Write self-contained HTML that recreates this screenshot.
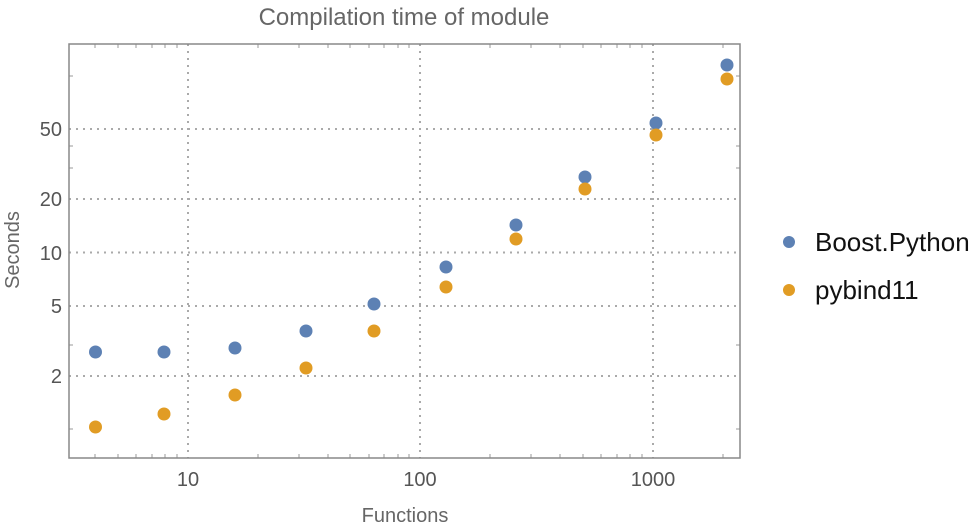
<!DOCTYPE html>
<html><head><style>body{margin:0;background:#fff}svg{display:block}</style></head>
<body>
<svg width="975" height="525" xmlns="http://www.w3.org/2000/svg" font-family="Liberation Sans, sans-serif">
<text x="404" y="25" font-size="24" fill="#666" text-anchor="middle">Compilation time of module</text>
<g stroke="#aaa" stroke-width="2" stroke-dasharray="2,5">
<line x1="188" y1="44" x2="188" y2="458"/><line x1="420" y1="44" x2="420" y2="458"/><line x1="653" y1="44" x2="653" y2="458"/>
<line x1="69" y1="129" x2="740" y2="129"/><line x1="69" y1="199" x2="740" y2="199"/><line x1="69" y1="252.5" x2="740" y2="252.5"/><line x1="69" y1="306" x2="740" y2="306"/><line x1="69" y1="376" x2="740" y2="376"/>
</g>
<g stroke="#999" stroke-width="1">
<line x1="69" y1="76" x2="73" y2="76"/><line x1="69" y1="146" x2="73" y2="146"/><line x1="69" y1="168" x2="73" y2="168"/><line x1="69" y1="345" x2="73" y2="345"/><line x1="69" y1="429" x2="73" y2="429"/>
<line x1="736" y1="76" x2="740" y2="76"/><line x1="736" y1="146" x2="740" y2="146"/><line x1="736" y1="168" x2="740" y2="168"/><line x1="736" y1="345" x2="740" y2="345"/><line x1="736" y1="429" x2="740" y2="429"/>
<line x1="95" y1="458" x2="95" y2="454"/><line x1="118" y1="458" x2="118" y2="454"/><line x1="136" y1="458" x2="136" y2="454"/><line x1="152" y1="458" x2="152" y2="454"/><line x1="165" y1="458" x2="165" y2="454"/><line x1="177" y1="458" x2="177" y2="454"/>
<line x1="95" y1="44" x2="95" y2="48"/><line x1="118" y1="44" x2="118" y2="48"/><line x1="136" y1="44" x2="136" y2="48"/><line x1="152" y1="44" x2="152" y2="48"/><line x1="165" y1="44" x2="165" y2="48"/><line x1="177" y1="44" x2="177" y2="48"/>
<line x1="258" y1="458" x2="258" y2="454"/><line x1="299" y1="458" x2="299" y2="454"/><line x1="328" y1="458" x2="328" y2="454"/><line x1="350" y1="458" x2="350" y2="454"/><line x1="369" y1="458" x2="369" y2="454"/><line x1="384" y1="458" x2="384" y2="454"/><line x1="398" y1="458" x2="398" y2="454"/><line x1="409" y1="458" x2="409" y2="454"/>
<line x1="490" y1="458" x2="490" y2="454"/><line x1="531" y1="458" x2="531" y2="454"/><line x1="560" y1="458" x2="560" y2="454"/><line x1="583" y1="458" x2="583" y2="454"/><line x1="601" y1="458" x2="601" y2="454"/><line x1="617" y1="458" x2="617" y2="454"/><line x1="630" y1="458" x2="630" y2="454"/><line x1="642" y1="458" x2="642" y2="454"/>
<line x1="723" y1="458" x2="723" y2="454"/>
<line x1="258" y1="44" x2="258" y2="48"/><line x1="299" y1="44" x2="299" y2="48"/><line x1="328" y1="44" x2="328" y2="48"/><line x1="350" y1="44" x2="350" y2="48"/><line x1="369" y1="44" x2="369" y2="48"/><line x1="384" y1="44" x2="384" y2="48"/><line x1="398" y1="44" x2="398" y2="48"/><line x1="409" y1="44" x2="409" y2="48"/>
<line x1="490" y1="44" x2="490" y2="48"/><line x1="531" y1="44" x2="531" y2="48"/><line x1="560" y1="44" x2="560" y2="48"/><line x1="583" y1="44" x2="583" y2="48"/><line x1="601" y1="44" x2="601" y2="48"/><line x1="617" y1="44" x2="617" y2="48"/><line x1="630" y1="44" x2="630" y2="48"/><line x1="642" y1="44" x2="642" y2="48"/><line x1="723" y1="44" x2="723" y2="48"/>
</g>
<rect x="69" y="44" width="671" height="414" fill="none" stroke="#888" stroke-width="1.5"/>
<g font-size="20" fill="#555" text-anchor="end">
<text x="62" y="136">50</text><text x="62" y="206">20</text><text x="62" y="260">10</text><text x="62" y="313">5</text><text x="62" y="383">2</text>
</g>
<g font-size="20" fill="#555" text-anchor="middle">
<text x="188" y="486">10</text><text x="420" y="486">100</text><text x="653" y="486">1000</text>
</g>
<text x="405" y="522" font-size="20" fill="#666" text-anchor="middle">Functions</text>
<text transform="translate(19,250) rotate(-90)" font-size="20" fill="#666" text-anchor="middle">Seconds</text>
<g fill="#5d81b4">
<circle cx="95.5" cy="352" r="6.5"/><circle cx="164" cy="352" r="6.5"/><circle cx="235" cy="348" r="6.5"/><circle cx="306" cy="331" r="6.5"/><circle cx="374" cy="304" r="6.5"/><circle cx="446" cy="267" r="6.5"/><circle cx="516" cy="225" r="6.5"/><circle cx="585" cy="177" r="6.5"/><circle cx="656" cy="123" r="6.5"/><circle cx="727" cy="65" r="6.5"/>
</g>
<g fill="#e19c24">
<circle cx="95.5" cy="427" r="6.5"/><circle cx="164" cy="414" r="6.5"/><circle cx="235" cy="395" r="6.5"/><circle cx="306" cy="368" r="6.5"/><circle cx="374" cy="331" r="6.5"/><circle cx="446" cy="287" r="6.5"/><circle cx="516" cy="239" r="6.5"/><circle cx="585" cy="189" r="6.5"/><circle cx="656" cy="135" r="6.5"/><circle cx="727" cy="79" r="6.5"/>
</g>
<circle cx="789" cy="242" r="6" fill="#5d81b4"/>
<circle cx="789" cy="290" r="6" fill="#e19c24"/>
<g font-size="26" fill="#111">
<text x="815" y="251">Boost.Python</text>
<text x="815" y="299">pybind11</text>
</g>
</svg>
</body></html>
